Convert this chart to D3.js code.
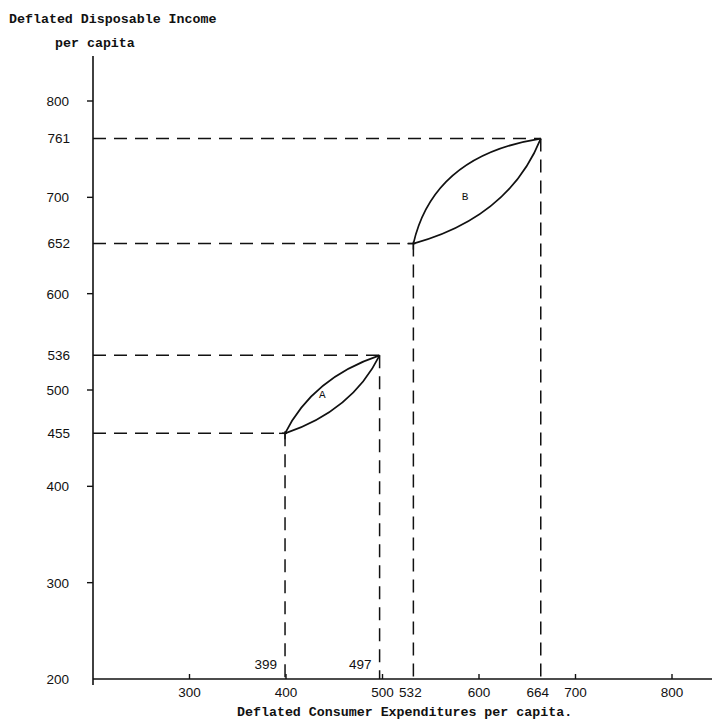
<!DOCTYPE html>
<html><head><meta charset="utf-8">
<script src="https://cdn.jsdelivr.net/npm/d3@7"></script>
<style>body{margin:0;background:#fff}svg{display:block}</style>
</head><body>
<script>
// ---- data ----
const yTicks = [200, 300, 400, 500, 600, 700, 800];
const xTicks = [300, 400, 500, 600, 700, 800];
const lensNames = ["A", "B"];
const expLow  = [399, 532];   // consumer expenditures at start
const expHigh = [497, 664];   // consumer expenditures at end
const incLow  = [455, 652];   // disposable income at start
const incHigh = [536, 761];   // disposable income at end
const yTitle1 = "Deflated Disposable Income";
const yTitle2 = "per capita";
const xTitle = "Deflated Consumer Expenditures per capita.";

// ---- layout ----
const W = 713, H = 719;
const x = d3.scaleLinear().domain([200, 800]).range([93, 672]);
const y = d3.scaleLinear().domain([200, 800]).range([679, 101]);
const ink = "#111";
const numFont = "'Liberation Sans', Arial, sans-serif";
const monoFont = "'Liberation Mono', 'Courier New', monospace";

const svg = d3.select("body").append("svg").attr("width", W).attr("height", H);

// titles
svg.append("text").attr("x", 9).attr("y", 23).text(yTitle1)
  .attr("font-family", monoFont).attr("font-size", 13.3).attr("font-weight", "bold").attr("fill", ink);
svg.append("text").attr("x", 55).attr("y", 47).text(yTitle2)
  .attr("font-family", monoFont).attr("font-size", 13.3).attr("font-weight", "bold").attr("fill", ink);
svg.append("text").attr("x", 237).attr("y", 716).text(xTitle)
  .attr("font-family", monoFont).attr("font-size", 13.3).attr("font-weight", "bold").attr("fill", ink);

// axes lines
const x0 = x(200), y0 = y(200);
svg.append("line").attr("x1", x0).attr("x2", x0).attr("y1", 56).attr("y2", y0 + 6)
  .attr("stroke", ink).attr("stroke-width", 1.6);
svg.append("line").attr("x1", x0).attr("x2", 712).attr("y1", y0).attr("y2", y0)
  .attr("stroke", ink).attr("stroke-width", 1.6);

// y ticks
yTicks.forEach(v => {
  if (v !== 200) svg.append("line").attr("x1", x0 - 6).attr("x2", x0).attr("y1", y(v)).attr("y2", y(v))
    .attr("stroke", ink).attr("stroke-width", 1.4);
  svg.append("text").attr("x", 69).attr("y", y(v)).attr("dy", "0.36em").attr("text-anchor", "end")
    .attr("font-family", numFont).attr("font-size", 13.5).attr("fill", ink).text(v);
});
// x ticks
xTicks.forEach(v => {
  svg.append("line").attr("x1", x(v)).attr("x2", x(v)).attr("y1", y0 - 5).attr("y2", y0)
    .attr("stroke", ink).attr("stroke-width", 1.4);
  svg.append("text").attr("x", x(v)).attr("y", y0 + 18).attr("text-anchor", "middle")
    .attr("font-family", numFont).attr("font-size", 13.5).attr("fill", ink).text(v);
});

// dashed guides + value labels
const dash = "13,8";
lensNames.forEach((name, i) => {
  const pts = [[expLow[i], incLow[i]], [expHigh[i], incHigh[i]]];
  pts.forEach(([ex, inc]) => {
    svg.append("line").attr("x1", x0).attr("x2", x(ex)).attr("y1", y(inc)).attr("y2", y(inc))
      .attr("stroke", ink).attr("stroke-width", 1.5).attr("stroke-dasharray", dash);
    svg.append("line").attr("x1", x(ex)).attr("x2", x(ex)).attr("y1", y(inc)).attr("y2", y0)
      .attr("stroke", ink).attr("stroke-width", 1.5).attr("stroke-dasharray", dash);
    svg.append("text").attr("x", 70).attr("y", y(inc)).attr("dy", "0.36em").attr("text-anchor", "end")
      .attr("font-family", numFont).attr("font-size", 13.5).attr("fill", ink).text(inc);
  });
});
// x value labels: first lens above axis (left of guide), second lens below axis
lensNames.forEach((name, i) => {
  [expLow[i], expHigh[i]].forEach(ex => {
    if (i === 0) {
      svg.append("text").attr("x", x(ex) - 8).attr("y", y0 - 10).attr("text-anchor", "end")
        .attr("font-family", numFont).attr("font-size", 13.5).attr("fill", ink).text(ex);
    } else {
      svg.append("text").attr("x", x(ex) - 3).attr("y", y0 + 18).attr("text-anchor", "middle")
        .attr("font-family", numFont).attr("font-size", 13.5).attr("fill", ink).text(ex);
    }
  });
});

// lens curves
const bulge = [[0.42, 0.42], [0.68, 0.5]]; // [upper, lower] curve bulge per lens
const labelOff = [[-10, 4], [-12, 9]];
lensNames.forEach((name, i) => {
  const p0 = [x(expLow[i]), y(incLow[i])];
  const p1 = [x(expHigh[i]), y(incHigh[i])];
  const mid = [(p0[0] + p1[0]) / 2, (p0[1] + p1[1]) / 2];
  const cUp = [p0[0], p1[1]];     // upper-left corner
  const cDn = [p1[0], p0[1]];     // lower-right corner
  [[cUp, bulge[i][0]], [cDn, bulge[i][1]]].forEach(([c, t]) => {
    const cp = [mid[0] + t * (c[0] - mid[0]), mid[1] + t * (c[1] - mid[1])];
    const p = d3.path();
    p.moveTo(p0[0], p0[1]);
    p.quadraticCurveTo(cp[0], cp[1], p1[0], p1[1]);
    svg.append("path").attr("d", p.toString()).attr("fill", "none")
      .attr("stroke", ink).attr("stroke-width", 1.7);
  });
  // small cross at start point
  svg.append("line").attr("x1", p0[0] - 6).attr("x2", p0[0] + 2).attr("y1", p0[1]).attr("y2", p0[1])
    .attr("stroke", ink).attr("stroke-width", 1.4);
  svg.append("line").attr("x1", p0[0]).attr("x2", p0[0]).attr("y1", p0[1] - 2).attr("y2", p0[1] + 6)
    .attr("stroke", ink).attr("stroke-width", 1.4);
  svg.append("text").attr("x", mid[0] + labelOff[i][0]).attr("y", mid[1] + labelOff[i][1])
    .attr("text-anchor", "middle").attr("font-family", monoFont).attr("font-size", 11)
    .attr("fill", ink).text(name);
});
</script>
</body></html>
